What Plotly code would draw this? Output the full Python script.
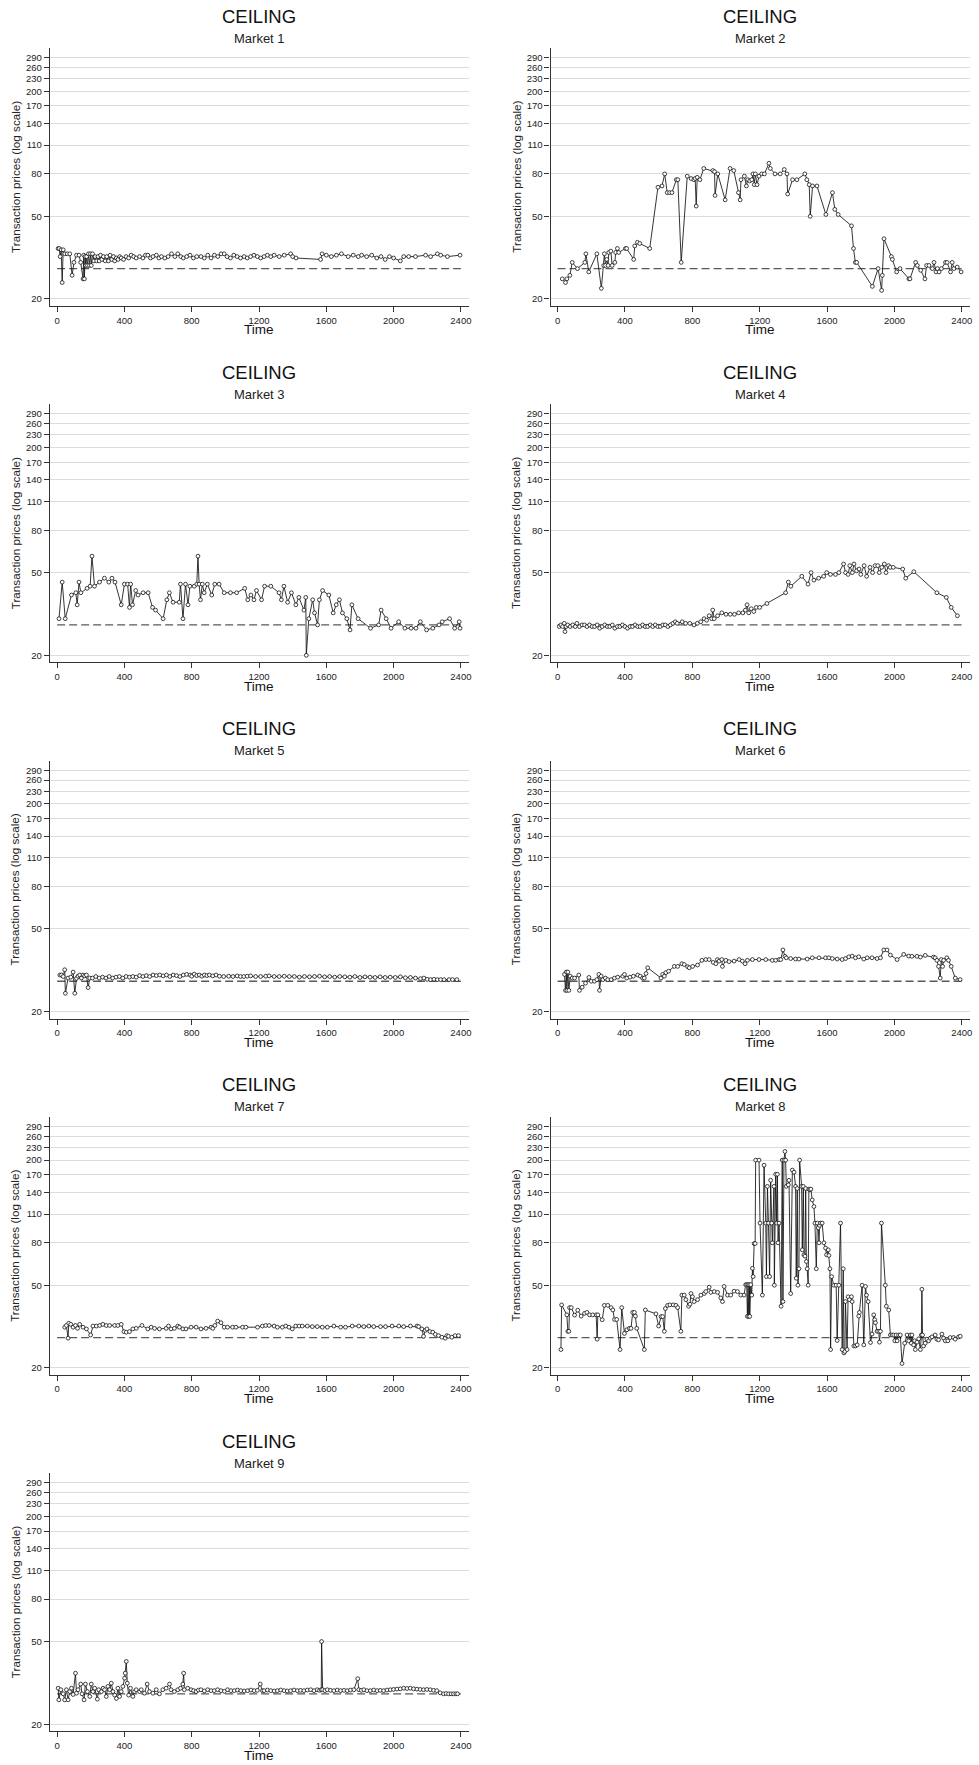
import plotly.graph_objects as go

# ---------------- data (time, transaction price) ----------------
TIME_TICKS = [0, 400, 800, 1200, 1600, 2000, 2400]
PRICE_TICKS = [20, 50, 80, 110, 140, 170, 200, 230, 260, 290]
CEILING_PRICE = 28
REF_SPAN = [0, 2400]
PANEL_TITLE = "CEILING"
MARKET_NAMES = ["Market 1", "Market 2", "Market 3", "Market 4", "Market 5",
                "Market 6", "Market 7", "Market 8", "Market 9"]

M1 = [(6,35),(12,35),(18,32),(24,34.5),(30,24),(36,34.5),(45,33),(60,33),(75,33),(89,26),(100,30),
      (115,32.5),(130,32.5),(140,30),(154,25),(158,32.5),(162,25),(166,32),(170,29),(175,32),(180,29),
      (186,33),(192,29),(198,33),(203,29),(210,33),(218,30.5),(226,32),(235,30.5),(243,32),(250,30.5),
      (258,32.5),(266,31),(275,32),(286,30.5),(295,32),(305,30.5),(315,32.5),(325,31),(335,32),(342,30.5),
      (352,31.5),(362,31),(372,32),(381,31.5),(395,31),(410,32),(425,31.5),(440,32.5),(455,32),(470,31.5),
      (490,32),(510,31.5),(525,32.5),(539,32.5),(555,31.5),(570,32),(590,32.5),(605,31.5),(620,32),
      (640,31.5),(660,32),(680,33),(700,32),(717,33),(735,32),(750,31.5),(770,32),(790,32.5),(810,31.5),
      (830,32),(855,32),(875,31.5),(895,32.5),(915,31.5),(935,32.5),(955,32),(975,33),(993,33),(1010,32),
      (1030,31.5),(1050,32.5),(1070,32),(1090,31.5),(1112,32),(1130,31.5),(1150,32),(1170,32.5),(1190,32),
      (1210,31.5),(1230,32),(1250,32.5),(1270,32),(1290,32.5),(1320,32),(1350,32.5),(1388,33),(1400,32),
      (1420,31.5),(1566,31),(1575,33),(1600,32.5),(1630,32),(1660,32.5),(1690,33),(1730,32),(1760,32.5),
      (1790,32),(1810,32.5),(1840,32),(1870,32.5),(1900,31.5),(1925,32),(1950,31),(1975,32),(2000,31.5),
      (2040,30.5),(2060,32),(2090,32),(2130,32),(2190,32.5),(2220,32),(2260,33),(2280,32.5),(2320,32),
      (2395,32.5)]

M2 = [(28,25),(47,24),(55,25),(73,26),(87,30),(118,28),(162,30),(168,33),(185,27),(233,33),(260,22.5),
      (274,29),(278,33),(284,29),(292,31),(300,29),(304,33.5),(316,34),(324,29),(340,30),(345,33.5),
      (355,35),(363,33.5),(403,35),(410,35),(452,31),(458,36),(474,37.5),(488,37),(547,35),(596,69),
      (620,70),(636,80),(651,65),(665,65),(679,65),(705,75),(714,75),(734,30),(770,78),(793,76),(809,75),
      (817,76),(823,56),(829,77),(845,75),(868,85),(922,83),(932,82),(935,63),(951,80),(995,60),(1024,85),
      (1046,83),(1074,65),(1084,60),(1089,75),(1109,78),(1121,70),(1129,75),(1141,74),(1153,75),(1160,80),
      (1168,71),(1174,80),(1184,71),(1196,78),(1212,80),(1228,80),(1255,90),(1263,85),(1291,80),(1322,80),
      (1346,84),(1362,80),(1366,64),(1395,75),(1421,75),(1468,80),(1480,75),(1494,71),(1500,50),(1514,70),
      (1540,70),(1593,51),(1632,65),(1646,54),(1666,51),(1745,45),(1757,35),(1768,30),(1776,30),(1869,23),
      (1903,28),(1924,22),(1928,26),(1938,39),(1982,32),(1988,31),(2013,27),(2033,28),(2086,25),(2092,25),
      (2126,30),(2136,29),(2156,27.5),(2181,25),(2191,29),(2205,29),(2225,28),(2235,30),(2247,27),(2255,28),
      (2265,27),(2279,28),(2303,30),(2313,30),(2333,27),(2343,30),(2353,28),(2373,28.5),(2396,27)]

M3 = [(11,30),(30,45),(48,30),(85,39),(111,40),(119,35),(130,45),(141,40),(178,42),(196,43),(207,60),
      (222,43),(252,45),(281,47),(307,45),(326,47),(344,45),(381,35),(400,44),(419,44),(430,34),(437,44),
      (448,35),(467,41),(481,39),(511,40),(541,40),(567,34),(585,33),(630,30),(652,37),(667,40),(689,36),
      (726,36),(733,44),(748,30),(763,44),(778,35),(789,43),(815,43),(830,44),(837,60),(844,44),(852,37),
      (863,44),(874,40),(893,44),(919,39),(937,44),(963,44),(993,40),(1030,40),(1067,40),(1115,42),
      (1133,37),(1152,39),(1170,37),(1185,41),(1215,37),(1233,43),(1270,43),(1319,40),(1333,37),(1348,43),
      (1370,36),(1393,40),(1419,35),(1437,38),(1467,33),(1478,38),(1481,20),(1496,30),(1519,37),(1530,32),
      (1548,28),(1559,37),(1578,41),(1615,39),(1641,32),(1659,35),(1678,37),(1696,32),(1722,30),(1741,26.5),
      (1752,35),(1789,30),(1863,27),(1911,28),(1926,33),(1956,30),(1985,27),(2030,29),(2067,27),(2104,27),
      (2133,27),(2159,29),(2196,26.5),(2233,27),(2270,28),(2289,29),(2333,30),(2363,27),(2390,29),(2395,27)]

M4 = [(10,27.5),(20,28),(30,27.5),(40,28.5),(44,26),(50,27.5),(60,28),(75,27.5),(90,28),(105,27.5),
      (115,28.5),(130,27.5),(145,28),(160,28),(175,27.5),(190,28),(205,27.5),(220,27.5),(235,28),(250,27),
      (265,27.5),(280,28),(295,27.5),(310,27.5),(325,28),(340,27),(355,27.5),(370,27.5),(385,28),(400,27.5),
      (415,27),(430,27.5),(445,27.5),(460,28),(475,27.5),(490,27.5),(505,28),(520,27.5),(535,27.5),(550,28),
      (565,27.5),(580,28),(595,27.5),(610,27.5),(625,28),(640,28),(655,27.5),(670,28),(685,28.5),(699,29),
      (710,28.5),(740,29),(760,28.5),(785,28.5),(810,28),(830,28.5),(850,29),(870,30),(885,29.5),(900,31),
      (915,30),(921,33),(930,30),(950,31),(975,32),(1000,31.5),(1025,31.5),(1050,31.5),(1075,32),(1100,32),
      (1115,33),(1125,35),(1135,32),(1150,33.5),(1165,32.5),(1180,34),(1200,34),(1243,35.5),(1354,40),
      (1370,45),(1385,43),(1450,48),(1487,44),(1505,50),(1522,46),(1550,47),(1580,48),(1598,50),(1620,49),
      (1650,49),(1670,50),(1698,55),(1710,50),(1725,49),(1735,54),(1750,50),(1760,55),(1775,51),(1790,52),
      (1800,49),(1820,54),(1835,48),(1855,53),(1870,50),(1885,54),(1901,54),(1910,50),(1925,53),(1940,55),
      (1950,50),(1965,54),(1975,53),(1993,53),(2049,52),(2067,47),(2115,50.5),(2252,40),(2308,38),
      (2337,34),(2374,31)]

M5 = [(16,30),(26,30),(36,29.5),(45,31.8),(49,24.5),(65,29),(81,29.3),(95,31),(105,24.5),(115,28.9),
      (124,29.6),(134,30),(144,29),(154,30),(164,29.7),(174,30),(184,26.1),(194,29),(210,29),(230,29.5),
      (250,29),(270,29.3),(290,29),(310,29.5),(330,29),(350,29.3),(370,29.5),(390,29),(410,29.5),(430,29.3),
      (450,29.5),(470,29.3),(490,29.8),(510,29.5),(530,29.8),(550,29.5),(570,30),(590,29.8),(610,30),
      (630,29.7),(650,30),(670,29.5),(690,30),(710,29.8),(730,29.5),(750,30),(770,30.2),(790,30),(800,29.6),
      (815,30.3),(830,29.8),(845,30),(860,29.6),(875,30),(890,29.8),(905,30),(925,29.7),(945,30),(965,29.6),
      (990,29.5),(1020,29.6),(1045,29.5),(1070,29.7),(1090,29.5),(1110,29.5),(1130,29.6),(1150,29.7),
      (1180,29.5),(1210,29.5),(1240,29.6),(1260,29.7),(1290,29.5),(1320,29.5),(1350,29.6),(1380,29.5),
      (1410,29.5),(1440,29.3),(1470,29.5),(1500,29.4),(1530,29.5),(1560,29.6),(1590,29.4),(1620,29.5),
      (1650,29.3),(1680,29.5),(1710,29.4),(1740,29.3),(1770,29.5),(1800,29.2),(1830,29.4),(1860,29.3),
      (1890,29.2),(1920,29.4),(1950,29.2),(1980,29.3),(2010,29.2),(2040,29.4),(2070,29.1),(2100,29.2),
      (2130,29),(2160,28.8),(2180,29),(2200,28.6),(2220,28.5),(2240,28.6),(2260,28.5),(2280,28.5),
      (2300,28.5),(2330,28.5),(2350,28.5),(2376,28.5)]

M6 = [(41,30.2),(47,25.3),(52,31),(55,25.3),(61,31),(67,25.3),(75,29.6),(87,29),(101,29),(126,30),
      (130,25.3),(146,26.2),(166,27.4),(186,29.2),(200,28),(219,28),(233,28.5),(245,30.2),(249,25.3),
      (259,29.6),(269,28.5),(284,29),(298,28.5),(318,28.5),(338,29),(357,29.3),(387,29.6),(397,30.2),
      (411,29),(430,29.3),(450,29.6),(476,30),(491,29.6),(505,29),(515,29),(525,30.5),(535,32.5),(614,29),
      (624,30.2),(634,29.6),(643,30.8),(659,31.3),(693,33),(713,33),(738,34),(752,33.7),(772,32.9),
      (782,32.5),(802,33),(831,33.5),(857,35.3),(880,35.6),(900,35.6),(924,34.5),(940,34),(949,35.6),
      (959,35),(975,35.6),(979,33),(999,35.3),(1018,34.8),(1048,35),(1078,35.6),(1097,35),(1113,34),
      (1127,35.3),(1157,35.6),(1196,35.6),(1236,35.6),(1275,35.3),(1295,35.3),(1315,35.6),(1325,35.6),
      (1338,39.6),(1350,36.9),(1358,36.3),(1384,36),(1413,35.8),(1433,35.8),(1482,35.8),(1512,36.3),
      (1552,36.3),(1591,36.3),(1611,36.3),(1631,36),(1660,35.8),(1690,35.6),(1710,36),(1729,36.7),
      (1749,37),(1769,36.3),(1788,36.7),(1818,35.8),(1838,36.3),(1867,36.3),(1897,36),(1917,36.3),
      (1937,39.6),(1956,39.6),(1976,37.4),(2016,35.6),(2055,37.7),(2085,37),(2104,36.9),(2134,36.9),
      (2154,36.6),(2183,37.3),(2232,36.6),(2242,36.3),(2252,35.3),(2262,33),(2272,29),(2278,35.6),
      (2286,33),(2292,35.3),(2311,36.3),(2321,35.3),(2337,33),(2361,29),(2390,28.5)]

M7 = [(45,31.4),(55,32),(65,27.8),(69,32.8),(81,32.4),(95,31.4),(109,32),(121,31),(134,32.4),(154,31.4),
      (174,30.8),(199,28.8),(213,31.8),(233,31.8),(253,32),(272,32.4),(292,32),(312,32),(342,32),(361,32),
      (381,32.4),(397,29.9),(411,29.7),(430,29.9),(450,30.8),(470,31),(504,32),(539,30.8),(559,31.4),
      (579,31),(608,30.8),(648,31),(662,31.8),(677,30.8),(697,31),(717,31.8),(727,31.4),(747,30.8),
      (766,30.8),(796,31.4),(826,31.4),(855,30.8),(885,31),(915,31.4),(925,31),(938,32),(954,33.6),
      (974,33),(993,31.4),(1013,31.4),(1043,31.4),(1063,31.4),(1102,31.4),(1122,31.4),(1191,31.4),
      (1220,31.8),(1240,32),(1260,32),(1290,31.8),(1309,31.4),(1339,31.4),(1359,31.8),(1378,31.4),
      (1398,30.8),(1418,31.8),(1438,31.8),(1457,31.8),(1487,31.8),(1517,31.6),(1546,31.6),(1576,31.4),
      (1606,31.4),(1645,31.8),(1685,31.4),(1714,31.4),(1754,31.8),(1793,31.8),(1823,31.6),(1853,31.8),
      (1882,31.6),(1922,31.6),(1952,31.6),(1991,31.8),(2031,31.8),(2060,31.6),(2100,31.8),(2139,31.8),
      (2149,31.6),(2168,30.8),(2178,28.4),(2188,30.3),(2198,30.8),(2216,29.9),(2233,29.7),(2248,29),
      (2267,28.6),(2287,28.1),(2307,27.8),(2316,28.6),(2326,28.4),(2346,28.1),(2366,28.6),(2386,28.6)]

M8 = [(20,24.5),(24,40.2),(55,36),(61,30),(67,30),(71,39),(81,39),(101,35.9),(120,37.9),(140,35.5),
      (160,36.6),(174,37),(190,36),(209,36),(229,36),(235,27.5),(239,36),(265,34.1),(278,40),(298,40),
      (318,39),(328,38),(338,34.2),(351,34.2),(371,24.5),(381,39),(397,29.3),(411,30.5),(426,31),(436,31),
      (446,37),(456,37),(462,35.5),(470,31),(515,24.5),(521,38),(584,36.4),(600,31.8),(614,35.3),
      (624,35.3),(634,30),(640,38.6),(653,40),(667,40.2),(687,40.2),(703,40),(713,39),(732,30),(738,44.8),
      (752,44.8),(762,42.6),(778,39.6),(786,40.5),(792,45.6),(801,44),(811,41.7),(831,42.6),(851,44.8),
      (871,45.6),(880,46.6),(900,48.9),(910,46.2),(930,46.6),(950,46.2),(969,43.4),(979,41.7),(989,49.3),
      (1009,44.8),(1028,44.8),(1048,46.8),(1068,46.6),(1088,44.8),(1107,44.8),(1117,50.3),(1123,50.3),
      (1127,35.4),(1131,50.3),(1135,35.4),(1139,50.3),(1141,35.4),(1147,50.3),(1153,44.8),(1157,60.3),
      (1161,55),(1167,79.3),(1173,79.3),(1176,200),(1196,200),(1202,99.5),(1216,44.8),(1226,189),
      (1236,99.5),(1240,55),(1246,149.5),(1252,99.5),(1259,55),(1265,160),(1271,99.5),(1275,80),
      (1285,149.5),(1287,50),(1295,171),(1301,99.5),(1305,171),(1309,80),(1315,99.5),(1327,39.6),
      (1334,200),(1338,41.7),(1344,200),(1350,220),(1354,200),(1358,149.5),(1370,152),(1374,160),
      (1384,45.6),(1394,179),(1404,175),(1413,149.5),(1417,54),(1423,146),(1427,50),(1433,60),(1437,200),
      (1449,149.5),(1453,74),(1459,149.5),(1463,70),(1469,69),(1473,146),(1477,65),(1482,60),(1488,50),
      (1492,145),(1498,144),(1504,145),(1512,128.6),(1522,119.6),(1528,99.5),(1536,60),(1542,99.5),
      (1548,94.5),(1552,80),(1556,97),(1561,99.5),(1571,99.5),(1581,80),(1591,75.5),(1597,70),(1607,74),
      (1611,69.5),(1617,60),(1621,24.5),(1627,55),(1640,50),(1654,50),(1660,27.1),(1670,50),(1680,99.5),
      (1690,24.5),(1696,60),(1700,23.6),(1706,24),(1709,41.7),(1719,24.5),(1725,44),(1733,42.6),(1745,44),
      (1749,41.7),(1759,25.5),(1769,25.5),(1779,25.8),(1788,35.5),(1792,37),(1808,50),(1818,25.8),
      (1828,49.3),(1834,44.8),(1844,41.7),(1858,26.5),(1867,29.1),(1877,36),(1883,34.1),(1887,33),
      (1897,30),(1907,30),(1911,26.6),(1917,30),(1923,99.5),(1946,50),(1952,39.6),(1966,38),(1976,28.8),
      (1986,28.8),(1996,28.8),(2002,27),(2010,28.8),(2016,27),(2025,28.8),(2035,28.8),(2045,21),(2061,26.3),
      (2075,28.8),(2085,27),(2094,28.8),(2100,26.3),(2104,28.8),(2114,25.8),(2120,27),(2124,24.5),
      (2134,26.6),(2144,27.6),(2154,24.5),(2160,28.8),(2163,47.8),(2167,28.8),(2173,25.5),(2183,26.3),
      (2193,27.5),(2203,27),(2213,27.8),(2223,28.2),(2242,28.8),(2252,27.5),(2262,27.3),(2282,29.1),
      (2292,27.8),(2302,27),(2317,27),(2331,28),(2351,28),(2361,27.5),(2381,28.2),(2391,28.4)]

M9 = [(6,29.8),(10,26.2),(22,29.3),(36,28),(45,26.2),(55,29.3),(65,26.2),(75,28.7),(85,29.8),(95,27.8),
      (109,35.2),(115,28.2),(124,29.3),(140,31.2),(148,28),(160,26.2),(168,31.2),(180,28.7),(194,27.2),
      (203,31.2),(213,28.7),(223,29.8),(239,26.4),(247,29.3),(263,28.7),(273,29.8),(282,29.3),(292,27.2),
      (302,30.4),(312,29.3),(322,31.5),(332,28.7),(342,27.6),(352,26.6),(361,29.8),(371,27.2),(381,28.7),
      (391,30.4),(401,33.3),(405,35.2),(411,40.1),(417,31.5),(425,27.6),(436,29.8),(450,27.2),(460,28.7),
      (470,29.3),(490,28.7),(500,29.3),(519,28.2),(535,31.2),(549,28.7),(569,28.2),(589,29.3),(608,28),
      (628,29.3),(648,29.8),(668,31.2),(677,29.3),(697,28.7),(717,29.3),(733,29.8),(747,31.2),(752,35.2),
      (756,29.3),(776,29.8),(796,29.3),(811,29),(826,28.7),(840,29.2),(855,29.3),(875,28.9),(895,29.3),
      (915,29),(934,29),(954,29.3),(974,29),(994,28.8),(1013,29.3),(1033,29),(1053,29),(1072,29.2),
      (1092,29),(1112,28.9),(1132,29),(1152,29.2),(1171,29),(1190,29.1),(1207,31.2),(1220,29),(1230,29),
      (1250,29.2),(1270,29),(1290,28.9),(1309,29),(1329,29.2),(1349,29),(1368,28.9),(1388,29),(1408,29.2),
      (1428,29),(1447,29.1),(1467,29),(1487,29.2),(1507,29.3),(1527,29),(1546,29.3),(1560,29.1),(1570,29.3),
      (1572,50),(1578,29.3),(1592,29),(1606,29.3),(1625,29.1),(1645,29),(1665,29.2),(1685,29),(1705,29.1),
      (1724,29),(1744,29.2),(1764,29.3),(1787,33.1),(1793,29.3),(1808,29.1),(1823,29.3),(1842,29),
      (1862,29),(1882,29.2),(1902,29),(1921,29.1),(1941,29),(1961,29.2),(1981,29.3),(2000,29.4),
      (2020,29.5),(2040,29.6),(2060,29.8),(2080,29.7),(2099,29.8),(2119,29.6),(2139,29.5),(2158,29.4),
      (2178,29.3),(2198,29.4),(2218,29.3),(2238,29.1),(2257,29),(2277,28.3),(2297,28),(2312,28.1),
      (2327,28),(2342,28),(2356,28),(2370,28),(2380,28)]

MARKETS = [M1, M2, M3, M4, M5, M6, M7, M8, M9]

# ---------------- layout geometry (pixels) ----------------
W, H = 979, 1765
COLS = [(50.0, 470.0, [-43.4, 2445.6]), (552.3, 972.7, [-41.4, 2447.0])]
ROW_TOP0, ROW_PITCH, PLOT_H = 48.0, 356.3, 258.0
Y_RANGE = [1.2673, 2.509]
FONT = "Liberation Sans, Arial, Helvetica, sans-serif"
AXIS_COL = "#333333"

fig = go.Figure()
annotations = []
layout = dict(
    width=W, height=H, autosize=False,
    margin=dict(l=0, r=0, t=0, b=0),
    paper_bgcolor="white", plot_bgcolor="white",
    showlegend=False,
    font=dict(family=FONT, color="#222222"),
)

for i, data in enumerate(MARKETS):
    r, c = divmod(i, 2)
    x0, x1, xr = COLS[c]
    top = ROW_TOP0 + ROW_PITCH * r
    bot = top + PLOT_H
    n = i + 1
    xa = "x" if n == 1 else f"x{n}"
    ya = "y" if n == 1 else f"y{n}"
    t = [p[0] for p in data]
    v = [p[1] for p in data]

    fig.add_trace(go.Scatter(
        x=REF_SPAN, y=[CEILING_PRICE, CEILING_PRICE], mode="lines",
        line=dict(color="#5a5a5a", width=1.3, dash="8px,4px"),
        xaxis=xa, yaxis=ya, hoverinfo="skip"))
    fig.add_trace(go.Scatter(
        x=t, y=v, mode="lines+markers",
        line=dict(color="#111111", width=0.85),
        marker=dict(symbol="circle", size=3.8, color="white",
                    line=dict(color="#111111", width=0.8)),
        xaxis=xa, yaxis=ya, cliponaxis=False))

    layout["xaxis" if n == 1 else f"xaxis{n}"] = dict(
        domain=[x0 / W, x1 / W], anchor=ya, range=xr,
        tickmode="array", tickvals=TIME_TICKS, ticktext=[str(k) for k in TIME_TICKS],
        showgrid=False, zeroline=False, showline=True, linecolor=AXIS_COL, linewidth=1.3,
        ticks="outside", ticklen=5, tickwidth=1, tickcolor=AXIS_COL,
        tickfont=dict(size=9.5, family=FONT, color="#222222"),
    )
    layout["yaxis" if n == 1 else f"yaxis{n}"] = dict(
        domain=[1 - bot / H, 1 - top / H], anchor=xa, type="log", range=Y_RANGE,
        tickmode="array", tickvals=PRICE_TICKS, ticktext=[str(k) for k in PRICE_TICKS],
        showgrid=True, gridcolor="#dcdcdc", gridwidth=1, zeroline=False,
        showline=True, linecolor=AXIS_COL, linewidth=1.3,
        ticks="outside", ticklen=5, tickwidth=1, tickcolor=AXIS_COL,
        tickfont=dict(size=9.5, family=FONT, color="#222222"),
    )

    cx = (x0 + x1) / 2 / W
    annotations.append(dict(text=PANEL_TITLE, x=cx, y=1 - (top - 32) / H, xref="paper", yref="paper",
                            showarrow=False, xanchor="center", yanchor="middle",
                            font=dict(size=18.5, family=FONT, color="#111111")))
    annotations.append(dict(text=MARKET_NAMES[i], x=cx, y=1 - (top - 10) / H, xref="paper", yref="paper",
                            showarrow=False, xanchor="center", yanchor="middle",
                            font=dict(size=13, family=FONT, color="#222222")))
    annotations.append(dict(text="Time", x=cx, y=1 - (bot + 24) / H, xref="paper", yref="paper",
                            showarrow=False, xanchor="center", yanchor="middle",
                            font=dict(size=13.5, family=FONT, color="#111111")))
    annotations.append(dict(text="Transaction prices (log scale)", x=(x0 - 35) / W,
                            y=1 - (top + bot) / 2 / H, xref="paper", yref="paper",
                            showarrow=False, xanchor="center", yanchor="middle", textangle=-90,
                            font=dict(size=11.7, family=FONT, color="#222222")))

layout["annotations"] = annotations
fig.update_layout(**layout)
fig.write_html("out.html", config={"displayModeBar": False},
               post_script="document.body.style.margin='0px';document.body.style.overflow='hidden';")
